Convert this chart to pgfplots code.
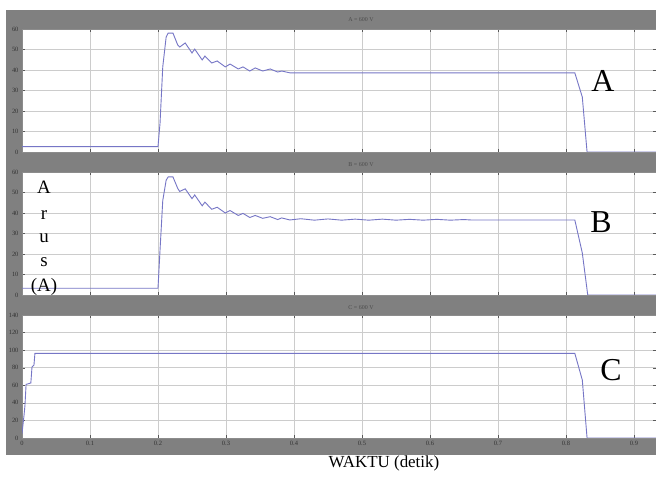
\documentclass[border=0pt]{standalone}
\usepackage{fontspec}
\setmainfont{Liberation Serif}
\usepackage{pgfplots}
\pgfplotsset{compat=1.18}

\definecolor{scopegray}{RGB}{128,128,128}
\definecolor{sig}{RGB}{118,118,198}

\pgfplotsset{
  scope/.style={
    scale only axis,
    width=634bp, height=123bp,
    anchor=south west,
    xmin=0, xmax=0.9324,
    xtick={0,0.1,0.2,0.3,0.4,0.5,0.6,0.7,0.8,0.9},
    grid=major,
    grid style={black!20, line width=0.5pt},
    axis background/.style={fill=white},
    axis line style={black!45},
    tick style={black!65},
    tick align=inside,
    major tick length=3bp,
    ticklabel style={font=\fontsize{6.5}{7}\selectfont, text=black!80},
    /pgf/number format/assume math mode=true,
    clip=true,
  },
}

\begin{document}
\begin{tikzpicture}[x=1bp, y=1bp]
\useasboundingbox (0,0) rectangle (656,480);
% grey scope window
\fill[scopegray] (6,25) rectangle (656,470);

% ---- panel A
\begin{axis}[scope, at={(22bp,328bp)}, ymin=0, ymax=60, ytick={0,10,...,60}, xticklabels={}]
\addplot[sig, line width=0.9bp] coordinates {
  (0,2.6) (0.2,2.6) (0.203,14.1) (0.207,41.5) (0.212,56.1) (0.215,58) (0.222,58)
  (0.229,52.2) (0.232,51.2) (0.240,53.2) (0.250,48.3) (0.254,50.2) (0.265,44.9)
  (0.269,46.8) (0.279,43.4) (0.287,44.4) (0.299,41.5) (0.306,42.9) (0.318,40.5)
  (0.325,41.5) (0.335,39.5) (0.343,41) (0.354,39.5) (0.365,40.5) (0.376,39)
  (0.382,39.5) (0.394,38.6) (0.813,38.6) (0.824,26.8) (0.831,0) (0.9324,0)
};
\end{axis}

% ---- panel B
\begin{axis}[scope, at={(22bp,185bp)}, ymin=0, ymax=60, ytick={0,10,...,60}, xticklabels={}]
\addplot[sig, line width=0.9bp] coordinates {
  (0,3.3) (0.2,3.3) (0.203,22) (0.207,46) (0.212,56) (0.215,57.6) (0.222,57.6)
  (0.229,52) (0.232,50.5) (0.240,51.8) (0.250,47) (0.254,48.8) (0.265,43.5)
  (0.269,45.3) (0.279,41.8) (0.287,42.8) (0.299,40) (0.306,41.2) (0.318,38.8)
  (0.325,39.8) (0.335,37.8) (0.343,38.8) (0.354,37.4) (0.365,38.2) (0.376,36.8)
  (0.382,37.6) (0.394,36.6) (0.41,37.2) (0.43,36.5) (0.45,37.1) (0.47,36.5)
  (0.49,37) (0.51,36.5) (0.53,37) (0.55,36.5) (0.57,36.9) (0.59,36.5)
  (0.61,36.9) (0.63,36.5) (0.65,36.8) (0.66,36.6) (0.813,36.6) (0.824,20.5)
  (0.832,0) (0.9324,0)
};
\end{axis}

% ---- panel C
\begin{axis}[scope, at={(22bp,42bp)}, ymin=0, ymax=140, ytick={0,20,...,140}]
\addplot[sig, line width=0.9bp] coordinates {
  (0,5) (0.003,26) (0.0044,37.5) (0.006,61) (0.013,62.6) (0.0147,80.8)
  (0.0176,83) (0.019,96.3) (0.813,96.3) (0.824,66) (0.831,0) (0.9324,0)
};
\end{axis}

% panel titles
\node[font=\fontsize{6}{7}\selectfont, text=black!70] at (361,460) {A = 600 V};
\node[font=\fontsize{6}{7}\selectfont, text=black!70] at (361,315) {B = 600 V};
\node[font=\fontsize{6}{7}\selectfont, text=black!70] at (361,172) {C = 600 V};

% curve labels
\node[font=\fontsize{32}{36}\selectfont] at (603,399) {A};
\node[font=\fontsize{32}{36}\selectfont] at (601,258) {B};
\node[font=\fontsize{32}{36}\selectfont] at (611,110) {C};

% vertical y label
\begin{scope}[every node/.style={font=\fontsize{19}{22}\selectfont, anchor=base}]
\node at (44,286) {A};
\node at (44,260) {r};
\node at (44,237) {u};
\node at (44,213) {s};
\node at (44,188) {(A)};
\end{scope}

\node[font=\fontsize{17}{20}\selectfont, anchor=base] at (384,12) {WAKTU (detik)};
\end{tikzpicture}
\end{document}
